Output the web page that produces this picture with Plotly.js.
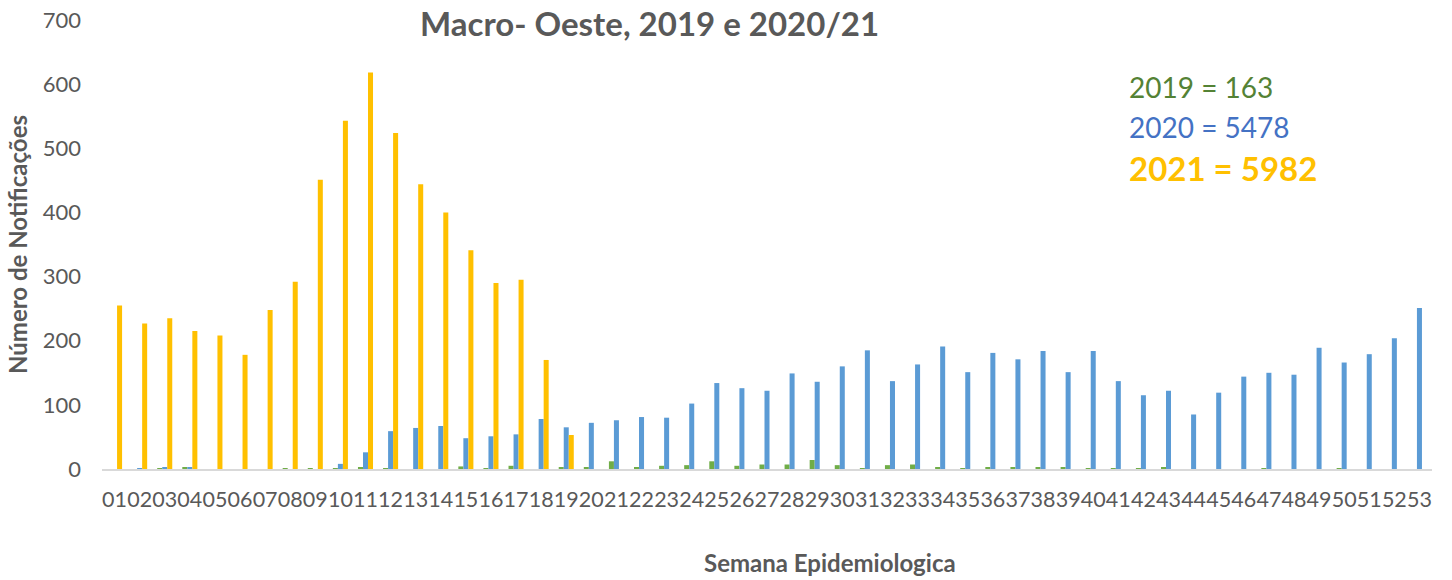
<!DOCTYPE html>
<html>
<head>
<meta charset="utf-8">
<script src="https://cdn.plot.ly/plotly-3.0.1.min.js"></script>
<style>html,body{margin:0;padding:0;background:#fff;}#chart{width:1452px;height:580px;}</style>
</head>
<body>
<div id="chart"></div>
<script>
var weeks = ["01","02","03","04","05","06","07","08","09","10","11","12","13","14","15","16","17","18","19","20","21","22","23","24","25","26","27","28","29","30","31","32","33","34","35","36","37","38","39","40","41","42","43","44","45","46","47","48","49","50","51","52","53"];
var y2019 = [0,0,1,2,0,0,0,1,1,1,3,1,0,0,4,1,5,0,2,3,12,3,5,6,12,5,7,7,14,6,1,6,7,3,1,2,3,3,3,1,1,1,2,0,0,0,1,0,0,1,0,0,0];
var y2020 = [0,1,3,3,0,0,0,0,0,8,26,59,64,67,48,51,54,78,65,72,76,81,80,102,134,126,122,149,136,160,185,137,163,191,151,181,171,184,151,184,137,115,122,85,119,144,150,147,189,166,179,204,251];
var y2021 = [255,227,235,215,208,178,248,292,451,543,618,524,444,400,341,290,295,170,53,null,null,null,null,null,null,null,null,null,null,null,null,null,null,null,null,null,null,null,null,null,null,null,null,null,null,null,null,null,null,null,null,null,null];
var totals = {t2019: "2019 = 163", t2020: "2020 = 5478", t2021: "2021 = 5982"};
var titleText = "Macro- Oeste, 2019 e 2020/21";
var xTitle = "Semana Epidemiologica";
var yTitle = "Número de Notificações";

var FONT = "Lato, 'Open Sans', sans-serif";
var traces = [
  {type:"bar", name:"2019", x:weeks, y:y2019, marker:{color:"#70AD47"}},
  {type:"bar", name:"2020", x:weeks, y:y2020, marker:{color:"#5B9BD5"}},
  {type:"bar", name:"2021", x:weeks, y:y2021, marker:{color:"#FFC000"}}
];
var layout = {
  width:1452, height:580,
  margin:{l:102, r:20, t:20, b:111},
  paper_bgcolor:"#fff", plot_bgcolor:"#fff",
  barmode:"group", bargap:0.4, bargroupgap:0,
  showlegend:false,
  font:{family:FONT, color:"#595959"},
  xaxis:{
    type:"category", range:[-0.5,52.5], tickmode:"linear", dtick:1, tickangle:0,
    showline:true, linecolor:"#D9D9D9", linewidth:1.5,
    showgrid:false, zeroline:false, ticks:"",
    tickfont:{size:21.5, color:"#595959", family:FONT},
    ticklabelstandoff:10
  },
  yaxis:{
    range:[0,700], dtick:100, tick0:0,
    showgrid:false, zeroline:false, showline:false, ticks:"",
    tickfont:{size:22, color:"#595959", family:FONT},
    ticklabelstandoff:20,
    title:{text:yTitle, font:{size:24, color:"#595959", family:FONT, weight:"bold"}, standoff:8}
  },
  annotations:[
    {xref:"paper", yref:"paper", x:0.412, y:1, xanchor:"center", yanchor:"top", yshift:19, showarrow:false,
     text:"<b>"+titleText+"</b>", font:{size:33, color:"#595959", family:FONT}},
    {xref:"paper", yref:"paper", x:(830-102)/1330, y:(469-562)/449, xanchor:"center", yanchor:"middle", showarrow:false,
     text:"<b>"+xTitle+"</b>", font:{size:24, color:"#595959", family:FONT}},
    {xref:"paper", yref:"paper", x:0.7707, y:(469-87)/449, xanchor:"left", yanchor:"middle", showarrow:false,
     text:totals.t2019, font:{size:28, color:"#548235", family:FONT}},
    {xref:"paper", yref:"paper", x:0.7707, y:(469-127)/449, xanchor:"left", yanchor:"middle", showarrow:false,
     text:totals.t2020, font:{size:28, color:"#4472C4", family:FONT}},
    {xref:"paper", yref:"paper", x:0.7707, y:(469-168)/449, xanchor:"left", yanchor:"middle", showarrow:false,
     text:"<b>"+totals.t2021+"</b>", font:{size:33, color:"#FFC000", family:FONT}}
  ]
};
Plotly.newPlot("chart", traces, layout, {displayModeBar:false, responsive:false});
</script>
</body>
</html>
